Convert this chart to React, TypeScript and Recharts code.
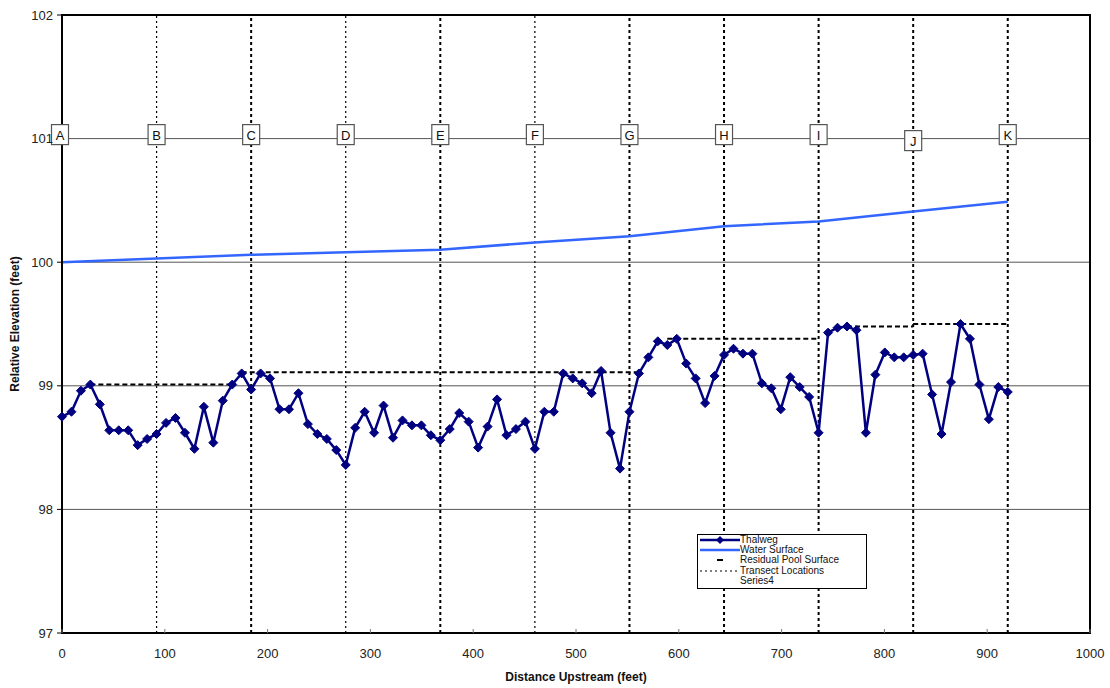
import React from "react";
import {
  ComposedChart,
  Line,
  Scatter,
  XAxis,
  YAxis,
  CartesianGrid,
  ReferenceLine,
  ReferenceArea,
} from "recharts";

// survey stations along the channel (feet upstream)
const STATIONS = [
  0, 9.2, 18.4, 27.6, 36.8, 46, 55.2, 64.4, 73.6, 82.8,
  92, 101.2, 110.4, 119.6, 128.8, 138, 147.2, 156.4, 165.6, 174.8,
  184, 193.2, 202.4, 211.6, 220.8, 230, 239.2, 248.4, 257.6, 266.8,
  276, 285.2, 294.4, 303.6, 312.8, 322, 331.2, 340.4, 349.6, 358.8,
  368, 377.2, 386.4, 395.6, 404.8, 414, 423.2, 432.4, 441.6, 450.8,
  460, 469.2, 478.4, 487.6, 496.8, 506, 515.2, 524.4, 533.6, 542.8,
  552, 561.2, 570.4, 579.6, 588.8, 598, 607.2, 616.4, 625.6, 634.8,
  644, 653.2, 662.4, 671.6, 680.8, 690, 699.2, 708.4, 717.6, 726.8,
  736, 745.2, 754.4, 763.6, 772.8, 782, 791.2, 800.4, 809.6, 818.8,
  828, 837.2, 846.4, 855.6, 864.8, 874, 883.2, 892.4, 901.6, 910.8,
  920,
];

// thalweg elevation at each station (feet)
const THALWEG = [
  98.75, 98.79, 98.96, 99.01, 98.85, 98.64, 98.64, 98.64, 98.52, 98.57,
  98.61, 98.7, 98.74, 98.62, 98.49, 98.83, 98.54, 98.88, 99.01, 99.1,
  98.97, 99.1, 99.06, 98.81, 98.81, 98.94, 98.69, 98.61, 98.57, 98.48,
  98.36, 98.66, 98.79, 98.62, 98.84, 98.58, 98.72, 98.68, 98.68, 98.6,
  98.56, 98.65, 98.78, 98.71, 98.5, 98.67, 98.89, 98.6, 98.65, 98.71,
  98.49, 98.79, 98.79, 99.1, 99.06, 99.02, 98.94, 99.12, 98.62, 98.33,
  98.79, 99.1, 99.23, 99.36, 99.33, 99.38, 99.18, 99.06, 98.86, 99.08,
  99.25, 99.3, 99.26, 99.26, 99.02, 98.98, 98.81, 99.07, 98.99, 98.91,
  98.62, 99.43, 99.47, 99.48, 99.45, 98.62, 99.09, 99.27, 99.23, 99.23,
  99.25, 99.26, 98.93, 98.61, 99.03, 99.5, 99.38, 99.01, 98.73, 98.99,
  98.95,
];

// transects
const TRANSECT_NAMES = ["A", "B", "C", "D", "E", "F", "G", "H", "I", "J", "K"];
const TRANSECT_STATIONS = [0, 92, 184, 276, 368, 460, 552, 644, 736, 828, 920];
const WATER_SURFACE = [
  100.0, 100.03, 100.06, 100.08, 100.1, 100.16, 100.21, 100.29, 100.33, 100.41, 100.49,
];

// residual pool surfaces
const POOL_START = [27.6, 174.8, 588.8, 763.6, 828];
const POOL_END = [165.6, 561.2, 736, 828, 920];
const POOL_ELEV = [99.01, 99.11, 99.38, 99.48, 99.5];

const X_TICKS = [0, 100, 200, 300, 400, 500, 600, 700, 800, 900, 1000];
const Y_TICKS = [97, 98, 99, 100, 101, 102];

const FONT = "'Liberation Sans', Arial, Helvetica, sans-serif";
const NAVY = "#000080";
const BLUE = "#3366ff";
const THIN_TRANSECTS = ["B", "D", "F"];
const LABEL_NUDGE: Record<string, number> = { J: 6 };

const thalwegData = STATIONS.map((x, i) => ({ x, y: THALWEG[i] }));
const waterData = TRANSECT_STATIONS.map((x, i) => ({ x, y: WATER_SURFACE[i] }));
const labelData = TRANSECT_STATIONS.map((x, i) => ({ x, y: 101, name: TRANSECT_NAMES[i] }));
const poolData = POOL_START.map((s, i) => [
  { x: s, y: POOL_ELEV[i] },
  { x: POOL_END[i], y: POOL_ELEV[i] },
]);

const Diamond = (p: any) => {
  const { cx, cy } = p;
  if (cx == null || cy == null) return null;
  return (
    <path
      key={p.index}
      d={`M${cx},${cy - 4.5} L${cx + 4.5},${cy} L${cx},${cy + 4.5} L${cx - 4.5},${cy} Z`}
      fill={NAVY}
      stroke={NAVY}
    />
  );
};

const XTick = ({ x, y, payload }: any) => (
  <g>
    <line x1={x} x2={x} y1={y} y2={y - 4} stroke="#777" />
    <text x={x} y={y + 25} textAnchor="middle" fontSize={13} fill="#222" fontFamily={FONT}>
      {payload.value}
    </text>
  </g>
);

const TransectLabel = (p: any) => {
  const { cx, cy, payload } = p;
  const cyy = cy - 4 + (LABEL_NUDGE[payload.name] || 0);
  const cxx = payload.name === "A" ? cx - 2 : cx;
  return (
    <g>
      <rect x={cxx - 8.5} y={cyy - 10} width={17} height={20} fill="#fff" stroke="#555" strokeWidth={1.2} />
      <text x={cxx} y={cyy + 5} textAnchor="middle" fontSize={13} fill="#111" fontFamily={FONT}>
        {payload.name}
      </text>
    </g>
  );
};

const LegendBox = () => {
  const rows = [
    { name: "Thalweg", kind: "thalweg" },
    { name: "Water Surface", kind: "water" },
    { name: "Residual Pool Surface", kind: "pool" },
    { name: "Transect Locations", kind: "transect" },
    { name: "Series4", kind: "none" },
  ];
  return (
    <div
      style={{
        position: "absolute",
        left: 697,
        top: 534,
        width: 168,
        height: 53,
        border: "1px solid #000",
        background: "#fff",
        overflow: "hidden",
        fontFamily: FONT,
        fontSize: 10,
        color: "#111",
      }}
    >
      {rows.map((r) => (
        <div key={r.name} style={{ display: "flex", alignItems: "center", height: 10.2, lineHeight: "10.2px" }}>
          <svg width={42} height={10} style={{ flex: "none" }}>
            {r.kind === "thalweg" && (
              <>
                <line x1={2} x2={42} y1={5} y2={5} stroke={NAVY} strokeWidth={2.5} />
                <path d="M22,1 L26,5 L22,9 L18,5 Z" fill={NAVY} />
              </>
            )}
            {r.kind === "water" && <line x1={2} x2={42} y1={5} y2={5} stroke={BLUE} strokeWidth={2.5} />}
            {r.kind === "pool" && <line x1={19} x2={25} y1={5} y2={5} stroke="#000" strokeWidth={2} />}
            {r.kind === "transect" && (
              <line x1={2} x2={42} y1={5} y2={5} stroke="#000" strokeWidth={1} strokeDasharray="2 3" />
            )}
          </svg>
          <span style={{ whiteSpace: "nowrap" }}>{r.name}</span>
        </div>
      ))}
    </div>
  );
};

export default function App() {
  return (
    <div style={{ position: "absolute", left: 0, top: 0, width: 1110, height: 688, background: "#fff", fontFamily: FONT }}>
      <ComposedChart width={1110} height={688} margin={{ top: 15, right: 20, bottom: 0, left: 0 }}>
        <CartesianGrid vertical={false} stroke="#555" strokeWidth={1} />
        <XAxis
          dataKey="x"
          type="number"
          domain={[0, 1000]}
          ticks={X_TICKS}
          height={55}
          tickSize={0}
          tickMargin={0}
          tickLine={false}
          tick={<XTick />}
          axisLine={{ stroke: "#000", strokeWidth: 2 }}
          label={{
            value: "Distance Upstream (feet)",
            position: "insideBottom",
            offset: 7,
            style: { fontSize: 12, fontWeight: "bold", fill: "#111", fontFamily: FONT },
          }}
        />
        <YAxis
          type="number"
          domain={[97, 102]}
          ticks={Y_TICKS}
          width={62}
          tickSize={5}
          tickMargin={4}
          tickLine={{ stroke: "#000" }}
          axisLine={{ stroke: "#000", strokeWidth: 2 }}
          tick={{ fontSize: 13, fill: "#222", fontFamily: FONT }}
          label={{
            value: "Relative Elevation (feet)",
            angle: -90,
            position: "insideLeft",
            offset: 15,
            style: { textAnchor: "middle", fontSize: 12, fontWeight: "bold", fill: "#111", fontFamily: FONT },
          }}
        />

        {TRANSECT_NAMES.slice(1).map((name, i) => {
          const thin = THIN_TRANSECTS.includes(name);
          return (
            <ReferenceLine
              key={name}
              x={TRANSECT_STATIONS[i + 1]}
              stroke="#000"
              strokeWidth={thin ? 1.2 : 2}
              strokeDasharray={thin ? "2 3" : "3 3"}
            />
          );
        })}

        <Line
          data={waterData}
          dataKey="y"
          stroke={BLUE}
          strokeWidth={2.5}
          dot={false}
          activeDot={false}
          isAnimationActive={false}
        />

        {poolData.map((seg, i) => (
          <Line
            key={`pool-${i}`}
            data={seg}
            dataKey="y"
            stroke="#000"
            strokeWidth={2}
            strokeDasharray="5 3"
            dot={false}
            activeDot={false}
            isAnimationActive={false}
          />
        ))}

        <Line
          data={thalwegData}
          dataKey="y"
          stroke={NAVY}
          strokeWidth={2.5}
          dot={Diamond}
          activeDot={false}
          isAnimationActive={false}
        />

        <Scatter data={labelData} dataKey="y" shape={TransectLabel} isAnimationActive={false} />

        <ReferenceArea x1={0} x2={1000} y1={97} y2={102} fill="none" stroke="#000" strokeWidth={2} />
      </ComposedChart>
      <LegendBox />
    </div>
  );
}
